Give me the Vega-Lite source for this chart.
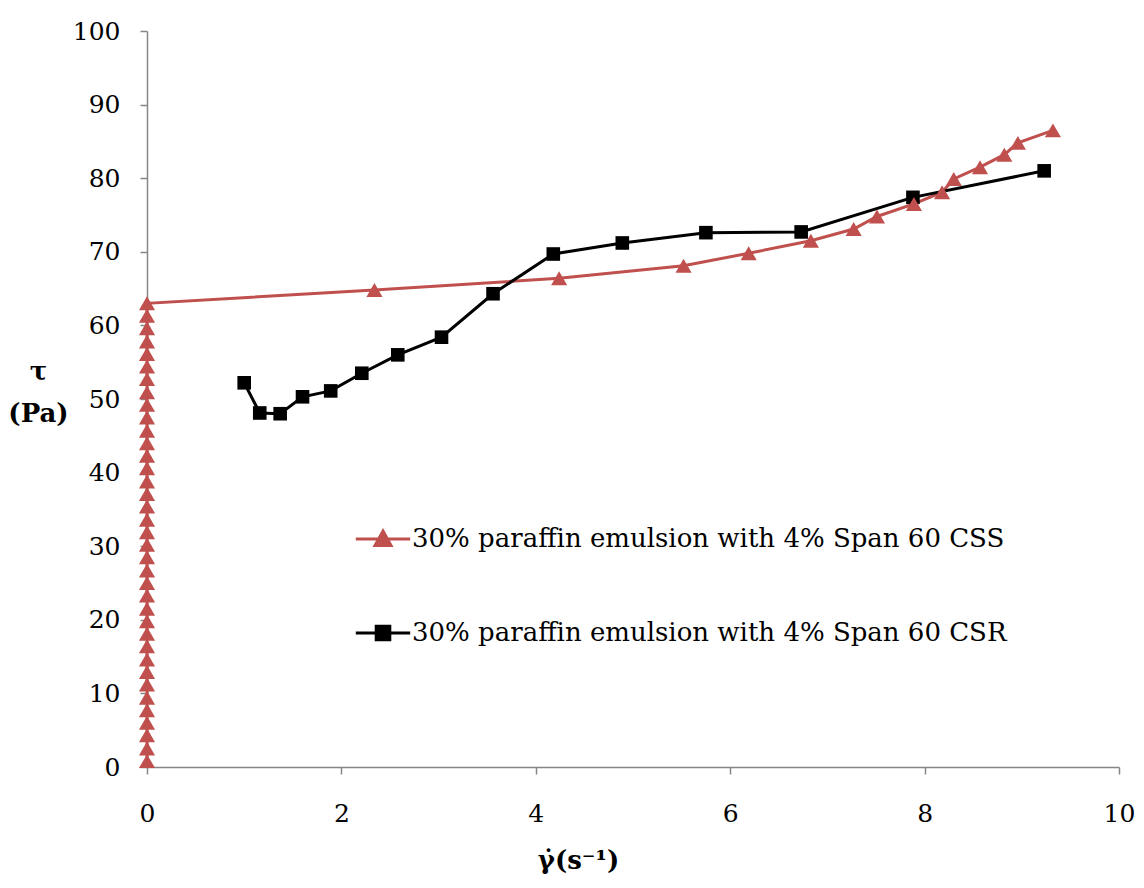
{
  "$schema": "https://vega.github.io/schema/vega-lite/v6.json",
  "width": 972,
  "height": 736,
  "autosize": {"type": "none"},
  "padding": {"left": 147, "top": 31, "right": 25, "bottom": 121},
  "background": "white",
  "config": {
    "view": {"stroke": null},
    "font": "DejaVu Serif",
    "axis": {
      "grid": false,
      "domainColor": "#868686",
      "tickColor": "#868686",
      "domainWidth": 1.5,
      "tickWidth": 1.5,
      "tickSize": 7,
      "labelFlush": false,
      "labelFont": "DejaVu Serif",
      "labelFontSize": 25,
      "labelColor": "#000000",
      "titleFont": "DejaVu Serif",
      "titleColor": "#000000",
      "titleFontSize": 26,
      "titleFontWeight": "bold"
    }
  },
  "datasets": {
    "series": [
      {"series": "CSS", "order": 1, "x": 0, "y": 0.8},
      {"series": "CSS", "order": 2, "x": 0, "y": 2.5},
      {"series": "CSS", "order": 3, "x": 0, "y": 4.3},
      {"series": "CSS", "order": 4, "x": 0, "y": 6.0},
      {"series": "CSS", "order": 5, "x": 0, "y": 7.7},
      {"series": "CSS", "order": 6, "x": 0, "y": 9.4},
      {"series": "CSS", "order": 7, "x": 0, "y": 11.2},
      {"series": "CSS", "order": 8, "x": 0, "y": 12.9},
      {"series": "CSS", "order": 9, "x": 0, "y": 14.6},
      {"series": "CSS", "order": 10, "x": 0, "y": 16.4},
      {"series": "CSS", "order": 11, "x": 0, "y": 18.1},
      {"series": "CSS", "order": 12, "x": 0, "y": 19.8},
      {"series": "CSS", "order": 13, "x": 0, "y": 21.5},
      {"series": "CSS", "order": 14, "x": 0, "y": 23.3},
      {"series": "CSS", "order": 15, "x": 0, "y": 25.0},
      {"series": "CSS", "order": 16, "x": 0, "y": 26.7},
      {"series": "CSS", "order": 17, "x": 0, "y": 28.5},
      {"series": "CSS", "order": 18, "x": 0, "y": 30.2},
      {"series": "CSS", "order": 19, "x": 0, "y": 31.9},
      {"series": "CSS", "order": 20, "x": 0, "y": 33.6},
      {"series": "CSS", "order": 21, "x": 0, "y": 35.4},
      {"series": "CSS", "order": 22, "x": 0, "y": 37.1},
      {"series": "CSS", "order": 23, "x": 0, "y": 38.8},
      {"series": "CSS", "order": 24, "x": 0, "y": 40.6},
      {"series": "CSS", "order": 25, "x": 0, "y": 42.3},
      {"series": "CSS", "order": 26, "x": 0, "y": 44.0},
      {"series": "CSS", "order": 27, "x": 0, "y": 45.7},
      {"series": "CSS", "order": 28, "x": 0, "y": 47.5},
      {"series": "CSS", "order": 29, "x": 0, "y": 49.2},
      {"series": "CSS", "order": 30, "x": 0, "y": 50.9},
      {"series": "CSS", "order": 31, "x": 0, "y": 52.7},
      {"series": "CSS", "order": 32, "x": 0, "y": 54.4},
      {"series": "CSS", "order": 33, "x": 0, "y": 56.1},
      {"series": "CSS", "order": 34, "x": 0, "y": 57.8},
      {"series": "CSS", "order": 35, "x": 0, "y": 59.6},
      {"series": "CSS", "order": 36, "x": 0, "y": 61.3},
      {"series": "CSS", "order": 37, "x": 0, "y": 63.0},
      {"series": "CSS", "order": 38, "x": 2.34, "y": 64.8},
      {"series": "CSS", "order": 39, "x": 4.24, "y": 66.4},
      {"series": "CSS", "order": 40, "x": 5.52, "y": 68.1},
      {"series": "CSS", "order": 41, "x": 6.19, "y": 69.8},
      {"series": "CSS", "order": 42, "x": 6.83, "y": 71.5},
      {"series": "CSS", "order": 43, "x": 7.27, "y": 73.1},
      {"series": "CSS", "order": 44, "x": 7.51, "y": 74.8},
      {"series": "CSS", "order": 45, "x": 7.89, "y": 76.5},
      {"series": "CSS", "order": 46, "x": 8.18, "y": 78.1},
      {"series": "CSS", "order": 47, "x": 8.30, "y": 79.9},
      {"series": "CSS", "order": 48, "x": 8.57, "y": 81.5},
      {"series": "CSS", "order": 49, "x": 8.82, "y": 83.2},
      {"series": "CSS", "order": 50, "x": 8.96, "y": 84.8},
      {"series": "CSS", "order": 51, "x": 9.32, "y": 86.5},
      {"series": "CSR", "order": 1, "x": 1.0, "y": 52.2},
      {"series": "CSR", "order": 2, "x": 1.16, "y": 48.1},
      {"series": "CSR", "order": 3, "x": 1.37, "y": 48.0},
      {"series": "CSR", "order": 4, "x": 1.60, "y": 50.3},
      {"series": "CSR", "order": 5, "x": 1.89, "y": 51.1},
      {"series": "CSR", "order": 6, "x": 2.21, "y": 53.5},
      {"series": "CSR", "order": 7, "x": 2.58, "y": 56.0},
      {"series": "CSR", "order": 8, "x": 3.03, "y": 58.4},
      {"series": "CSR", "order": 9, "x": 3.56, "y": 64.3},
      {"series": "CSR", "order": 10, "x": 4.18, "y": 69.7},
      {"series": "CSR", "order": 11, "x": 4.89, "y": 71.2},
      {"series": "CSR", "order": 12, "x": 5.75, "y": 72.6},
      {"series": "CSR", "order": 13, "x": 6.73, "y": 72.7},
      {"series": "CSR", "order": 14, "x": 7.88, "y": 77.4},
      {"series": "CSR", "order": 15, "x": 9.23, "y": 81.0}
    ]
  },
  "data": {"name": "series"},
  "encoding": {
    "x": {
      "field": "x",
      "type": "quantitative",
      "scale": {"domain": [0, 10], "nice": false, "zero": false},
      "axis": {
        "values": [0, 2, 4, 6, 8, 10],
        "title": "γ̇(s⁻¹)",
        "labelPadding": 27,
        "titleX": 431,
        "titlePadding": 21
      }
    },
    "y": {
      "field": "y",
      "type": "quantitative",
      "scale": {"domain": [0, 100], "nice": false},
      "axis": {
        "values": [0, 10, 20, 30, 40, 50, 60, 70, 80, 90, 100],
        "title": ["τ", "(Pa)"],
        "titleAngle": 0,
        "titleAlign": "center",
        "titleBaseline": "top",
        "titleX": -109,
        "titleY": 327,
        "titleLineHeight": 42,
        "labelPadding": 20
      }
    }
  },
  "layer": [
    {
      "mark": {"type": "line", "strokeWidth": 3},
      "encoding": {
        "order": {"field": "order", "type": "quantitative"},
        "color": {
          "field": "series",
          "type": "nominal",
          "scale": {"domain": ["CSS", "CSR"], "range": ["#C0504D", "#000000"]},
          "legend": {
            "orient": "none",
            "legendX": 223,
            "legendY": 495,
            "title": null,
            "labelExpr": "datum.value === 'CSS' ? '30% paraffin emulsion with 4% Span 60 CSS' : '30% paraffin emulsion with 4% Span 60 CSR'",
            "labelFont": "DejaVu Serif",
            "labelFontSize": 26,
            "labelColor": "#000000",
            "labelLimit": 800,
            "symbolSize": 256,
            "symbolType": "M-3.4,0L3.4,0M0,-1L1,0.8L-1,0.8Z",
            "symbolStrokeWidth": 3,
            "labelOffset": 16,
            "rowPadding": 68,
            "encode": {
              "symbols": {
                "update": {
                  "shape": {"signal": "datum.value === 'CSS' ? 'M-3.4,0L3.4,0M0,-1L1,0.8L-1,0.8Z' : 'M-3.4,0L3.4,0M-0.85,-0.85L0.85,-0.85L0.85,0.85L-0.85,0.85Z'"},
                  "fill": {"signal": "datum.value === 'CSS' ? '#C0504D' : '#000000'"},
                  "fillOpacity": {"value": 1},
                  "stroke": {"signal": "datum.value === 'CSS' ? '#C0504D' : '#000000'"},
                  "strokeWidth": {"value": 3}
                }
              }
            }
          }
        }
      }
    },
    {
      "transform": [{"filter": "datum.series === 'CSR'"}],
      "mark": {"type": "point", "filled": true, "opacity": 1, "shape": "square", "size": 185, "color": "#000000"}
    },
    {
      "transform": [{"filter": "datum.series === 'CSS'"}],
      "mark": {"type": "point", "filled": true, "opacity": 1, "shape": "triangle-up", "size": 260, "color": "#C0504D"}
    }
  ]
}
